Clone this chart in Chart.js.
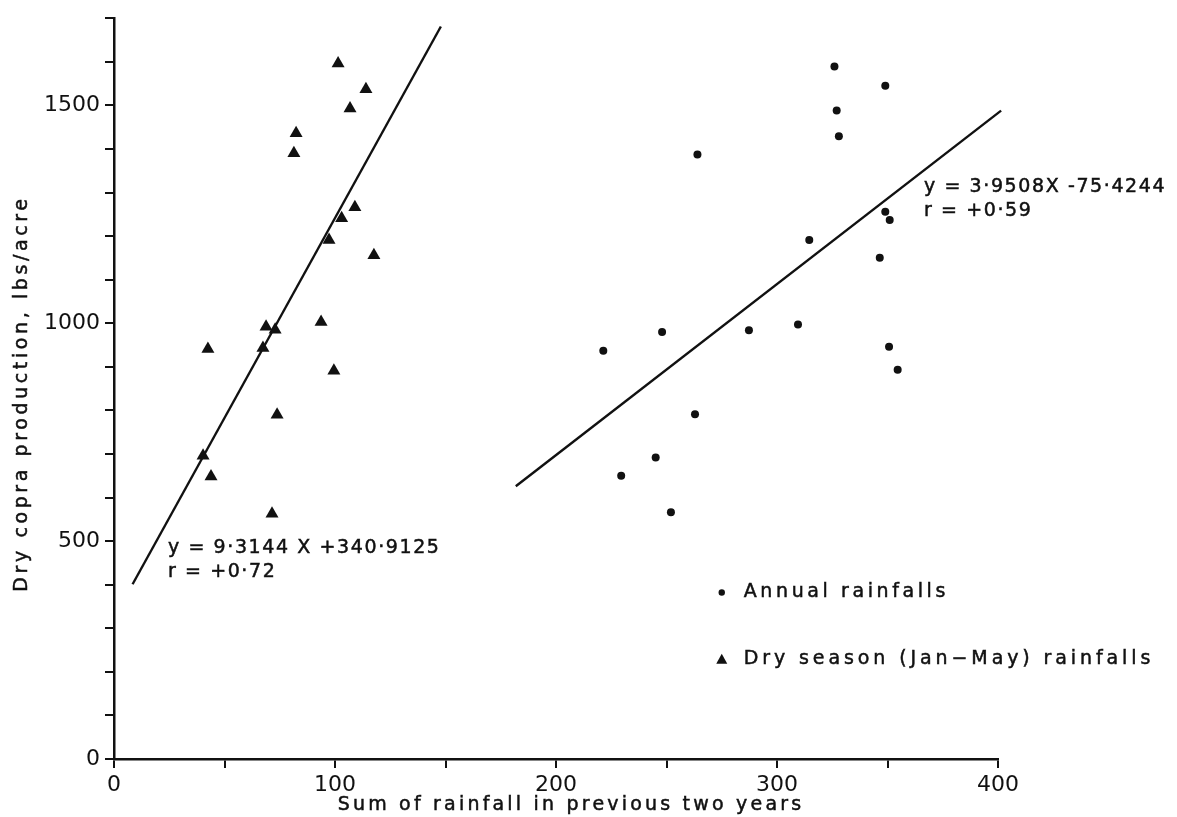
<!DOCTYPE html>
<html>
<head>
<meta charset="utf-8">
<script src="https://cdn.jsdelivr.net/npm/chart.js@4.4.1/dist/chart.umd.min.js"></script>
<style>
  html, body { margin: 0; padding: 0; background: #fff; }
</style>
</head>
<body>
<canvas id="copra" width="1177" height="817"></canvas>
<script>
// dry season (Jan-May) rainfall sums vs copra yield - triangles
const dryRain  = [101.4, 114, 106.8, 82.4, 81.4, 109, 103, 97.3, 117.6, 68.8, 72.9, 93.7, 42.5, 67.4, 99.5, 73.8, 40.3, 43.9, 71.5];
const dryYield = [1596, 1537, 1493, 1436, 1390, 1266, 1241, 1191, 1156, 992, 985, 1003, 941, 943, 891, 790, 696, 648, 563];

// annual rainfall sums vs copra yield - dots
const annualRain  = [326, 349, 327, 328, 264, 349, 351, 314.6, 346.5, 309.5, 287.3, 248, 350.7, 221.4, 354.6, 262.9, 245.1, 229.5, 252];
const annualYield = [1589, 1545, 1488, 1429, 1387, 1256, 1237, 1191, 1150, 997, 984, 980, 946, 937, 893, 791, 692, 650, 566];

// regression lines, end points as drawn on the figure
const dryFitRain = [8.4, 147.9];
const dryFitYield = [401, 1681];
const annualFitRain = [181.8, 401.4];
const annualFitYield = [626, 1488];

const xTickLabels = [0, 100, 200, 300, 400];
const yTickLabels = [0, 500, 1000, 1500];

const FONT = '"DejaVu Sans", sans-serif';
const INK = '#111';

const pts = (xs, ys) => xs.map((x, i) => ({ x: x, y: ys[i] }));

// text drawn straight onto the canvas (equations, legend, axis titles)
const notes = [
  { x: 24.4, y: 483, lines: ['y = 9·3144 X +340·9125', 'r = +0·72'] },
  { x: 366.5, y: 1312, lines: ['y = 3·9508X -75·4244', 'r = +0·59'] }
];
const legendItems = [
  { x: 275, y: 382, style: 'dot', text: 'Annual rainfalls' },
  { x: 275, y: 229, style: 'tri', text: 'Dry season (Jan−May) rainfalls' }
];

function inkText(ctx, t, x, y) {
  ctx.fillText(t, x, y);
  ctx.strokeText(t, x, y);
}

const textPlugin = {
  id: 'texts',
  afterDraw(chart) {
    const ctx = chart.ctx;
    const xs = chart.scales.x, ys = chart.scales.y;
    const area = chart.chartArea;
    ctx.save();
    ctx.fillStyle = INK;
    ctx.strokeStyle = INK;
    ctx.lineWidth = 0.5;
    ctx.font = '19px ' + FONT;
    ctx.textBaseline = 'middle';
    ctx.textAlign = 'left';
    ctx.letterSpacing = '1.6px';

    notes.forEach(n => {
      const px = xs.getPixelForValue(n.x), py = ys.getPixelForValue(n.y);
      n.lines.forEach((t, i) => inkText(ctx, t, px, py + i * 24));
    });

    legendItems.forEach(l => {
      const px = xs.getPixelForValue(l.x), py = ys.getPixelForValue(l.y);
      ctx.beginPath();
      if (l.style === 'dot') {
        ctx.arc(px, py, 3.2, 0, Math.PI * 2);
      } else {
        ctx.moveTo(px, py - 5.5);
        ctx.lineTo(px + 5.5, py + 4.5);
        ctx.lineTo(px - 5.5, py + 4.5);
        ctx.closePath();
      }
      ctx.fill();
      ctx.letterSpacing = l.style === 'dot' ? '3.6px' : '3.9px';
      inkText(ctx, l.text, px + 22, py);
    });

    // axis titles
    ctx.textAlign = 'center';
    ctx.letterSpacing = '3.2px';
    inkText(ctx, 'Sum of rainfall in previous two years', (area.left + area.right) / 2 + 15, area.bottom + 46);
    ctx.save();
    ctx.translate(22, (area.top + area.bottom) / 2 + 5);
    ctx.rotate(-Math.PI / 2);
    ctx.letterSpacing = '3.6px';
    inkText(ctx, 'Dry copra production, lbs/acre', 0, 0);
    ctx.restore();
    ctx.restore();
  }
};

new Chart('copra', {
  type: 'scatter',
  data: {
    datasets: [{
      label: 'Dry season (Jan-May) rainfalls',
      data: pts(dryRain, dryYield),
      pointStyle: 'triangle',
      pointRadius: 7.5,
      backgroundColor: INK,
      borderColor: INK,
      borderWidth: 0
    }, {
      label: 'Annual rainfalls',
      data: pts(annualRain, annualYield),
      pointStyle: 'circle',
      pointRadius: 4,
      backgroundColor: INK,
      borderColor: INK,
      borderWidth: 0
    }, {
      label: 'dry fit',
      data: pts(dryFitRain, dryFitYield),
      showLine: true,
      pointRadius: 0,
      borderColor: INK,
      borderWidth: 2.4,
      clip: false
    }, {
      label: 'annual fit',
      data: pts(annualFitRain, annualFitYield),
      showLine: true,
      pointRadius: 0,
      borderColor: INK,
      borderWidth: 2.4,
      clip: false
    }]
  },
  options: {
    responsive: false,
    animation: false,
    events: [],
    layout: { padding: { top: 16, right: 179, left: 0, bottom: 0 } },
    plugins: {
      legend: { display: false },
      tooltip: { enabled: false }
    },
    scales: {
      x: {
        type: 'linear',
        min: 0,
        max: 400,
        afterFit: s => { s.height = 58; },
        border: { color: INK, width: 2.5 },
        grid: { drawOnChartArea: false, drawTicks: true, tickLength: 9, color: INK, lineWidth: 2 },
        ticks: {
          stepSize: 50,
          autoSkip: false,
          maxRotation: 0,
          padding: 4,
          color: INK,
          font: { family: FONT, size: 22 },
          callback: v => xTickLabels.includes(v) ? String(v) : ''
        }
      },
      y: {
        type: 'linear',
        min: 0,
        max: 1700,
        afterFit: s => { s.width = 114; },
        border: { color: INK, width: 2.5 },
        grid: { drawOnChartArea: false, drawTicks: true, tickLength: 9, color: INK, lineWidth: 2 },
        ticks: {
          stepSize: 100,
          maxTicksLimit: 100,
          autoSkip: false,
          padding: 5,
          color: INK,
          font: { family: FONT, size: 22 },
          callback: v => yTickLabels.includes(v) ? String(v) : ''
        }
      }
    }
  },
  plugins: [textPlugin]
});
</script>
</body>
</html>
